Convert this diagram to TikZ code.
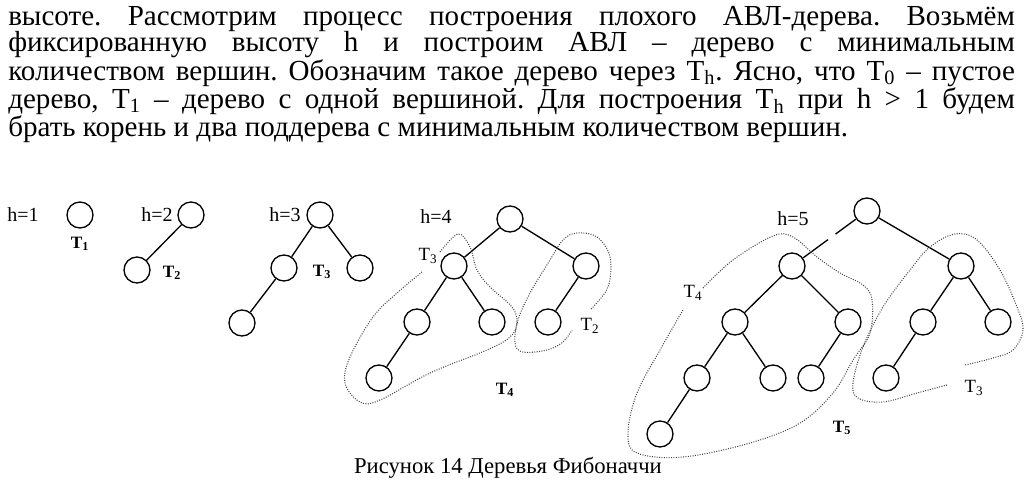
\documentclass[tikz,border=0pt]{standalone}
\usepackage{fontspec}
\setmainfont{Liberation Serif}
\usetikzlibrary{calc}
\tikzset{
  vx/.style={circle,draw,line width=1pt,minimum size=19.5pt,inner sep=0pt},
  br/.style={line width=1pt},
  hl/.style={font=\fontsize{15}{17}\selectfont,inner sep=0pt},
  sl/.style={font=\fontsize{14}{16}\selectfont,inner sep=0pt},
  bl/.style={font=\fontsize{13}{15}\selectfont\bfseries,inner sep=0pt},
  hull/.style={line width=0.8pt,dash pattern=on 0.7pt off 1.1pt,black!75}
}
\newcommand{\Tsub}[1]{T\textsubscript{#1}}
\begin{document}
\begin{tikzpicture}[x=0.75pt,y=-0.75pt]
\useasboundingbox (0,0) rectangle (1031,490);
\node[anchor=base west,inner sep=0pt,text width=755pt,align=justify,font=\fontsize{21.8}{20}\selectfont] (txt) at (8,25)
 {\frenchspacing\tolerance=9999\hyphenpenalty=10000 высоте. Рассмотрим процесс построения плохого АВЛ-дерева. Возьмём\linebreak
  фиксированную высоту h и построим АВЛ – дерево с минимальным\linebreak
  количеством вершин. Обозначим такое дерево через \Tsub{h}. Ясно, что \Tsub{0} – пустое\linebreak
  дерево, \Tsub{1} – дерево с одной вершиной. Для построения \Tsub{h} при h > 1 будем\linebreak
  брать корень и два поддерева с минимальным количеством вершин.};

\node[hl] (h1) at (23,215) {h=1};
\node[vx] (n1) at (80,215) {};
\node[bl] (t1) at (80,244) {\Tsub{1}};

\node[hl] (h2) at (157,215) {h=2};
\node[vx] (n2) at (191,215) {};
\node[vx] (n2a) at (137,270) {};
\node[bl] (t2) at (172,273) {\Tsub{2}};

\node[hl] (h3) at (285,215) {h=3};
\node[vx] (n3) at (320,215) {};
\node[vx] (n3a) at (284,268) {};
\node[vx] (n3b) at (360,268) {};
\node[vx] (n3aa) at (242,323) {};
\node[bl] (t3) at (322,272) {\Tsub{3}};

\node[hl] (h4) at (436,217) {h=4};
\node[vx] (n4) at (510,219) {};
\node[vx] (n4a) at (454,266) {};
\node[vx] (n4b) at (586,266) {};
\node[vx] (n4aa) at (417,322) {};
\node[vx] (n4ab) at (492,322) {};
\node[vx] (n4ba) at (548,322) {};
\node[vx] (n4aaa) at (379,378) {};
\node[sl] (s4a) at (428,256) {\Tsub{3}};
\node[sl] (s4b) at (590,326) {\Tsub{2}};
\node[bl] (t4) at (505,390) {\Tsub{4}};

\node[hl] (h5) at (793,219) {h=5};
\node[vx] (n5) at (867,211) {};
\node[vx] (n5a) at (792,266) {};
\node[vx] (n5b) at (961,266) {};
\node[vx] (n5aa) at (735,322) {};
\node[vx] (n5ab) at (848,322) {};
\node[vx] (n5ba) at (923,322) {};
\node[vx] (n5bb) at (998,322) {};
\node[vx] (n5aaa) at (697,378) {};
\node[vx] (n5aab) at (773,378) {};
\node[vx] (n5aba) at (811,378) {};
\node[vx] (n5baa) at (886,378) {};
\node[vx] (n5aaaa) at (660,434) {};
\node[sl] (s5a) at (693,293) {\Tsub{4}};
\node[sl] (s5b) at (974,388) {\Tsub{3}};
\node[bl] (t5) at (842,428) {\Tsub{5}};

\foreach \p/\c in {n2/n2a,n3/n3a,n3/n3b,n3a/n3aa,
  n4/n4a,n4/n4b,n4a/n4aa,n4a/n4ab,n4b/n4ba,n4aa/n4aaa,
  n5/n5b,n5a/n5aa,n5a/n5ab,n5b/n5ba,n5b/n5bb,n5aa/n5aaa,n5aa/n5aab,n5ab/n5aba,n5ba/n5baa,n5aaa/n5aaaa}
  \draw[br] (\p) -- (\c);
\draw[br] (n5) -- ($(n5)!0.42!(n5a)$);
\draw[br] ($(n5)!0.52!(n5a)$) -- (n5a);

\draw[hull] plot[smooth,tension=0.6] coordinates {(440,252) (458,234) (470,247) (477,270) (490,287) (512,307) (517,323) (510,337) (487,350) (430,373) (380,400) (360,402) (345,383) (350,357) (373,317) (397,293) (422,272)};
\draw[hull] plot[smooth,tension=0.6] coordinates {(591,309) (608,287) (610,257) (597,237) (577,233) (563,240) (550,260) (530,293) (518,320) (515,343) (523,352) (547,350) (563,342) (572,330)};
\draw[hull] plot[smooth,tension=0.6] coordinates {(703,288) (733,260) (773,236) (793,237) (817,257) (840,273) (863,285) (872,300) (870,333) (853,360) (833,393) (800,423) (750,443) (683,457) (637,453) (628,433) (637,393) (660,350) (683,310)};
\draw[hull] plot[smooth,tension=0.6] coordinates {(947,385) (917,393) (883,402) (858,398) (853,383) (863,347) (883,307) (910,270) (930,247) (955,234) (977,240) (1000,270) (1017,307) (1023,330) (1013,350) (993,358) (965,365)};

\node[anchor=base,inner sep=0pt,font=\fontsize{17}{20}\selectfont] (cap) at (508,473) {Рисунок 14 Деревья Фибоначчи};
\end{tikzpicture}
\end{document}
